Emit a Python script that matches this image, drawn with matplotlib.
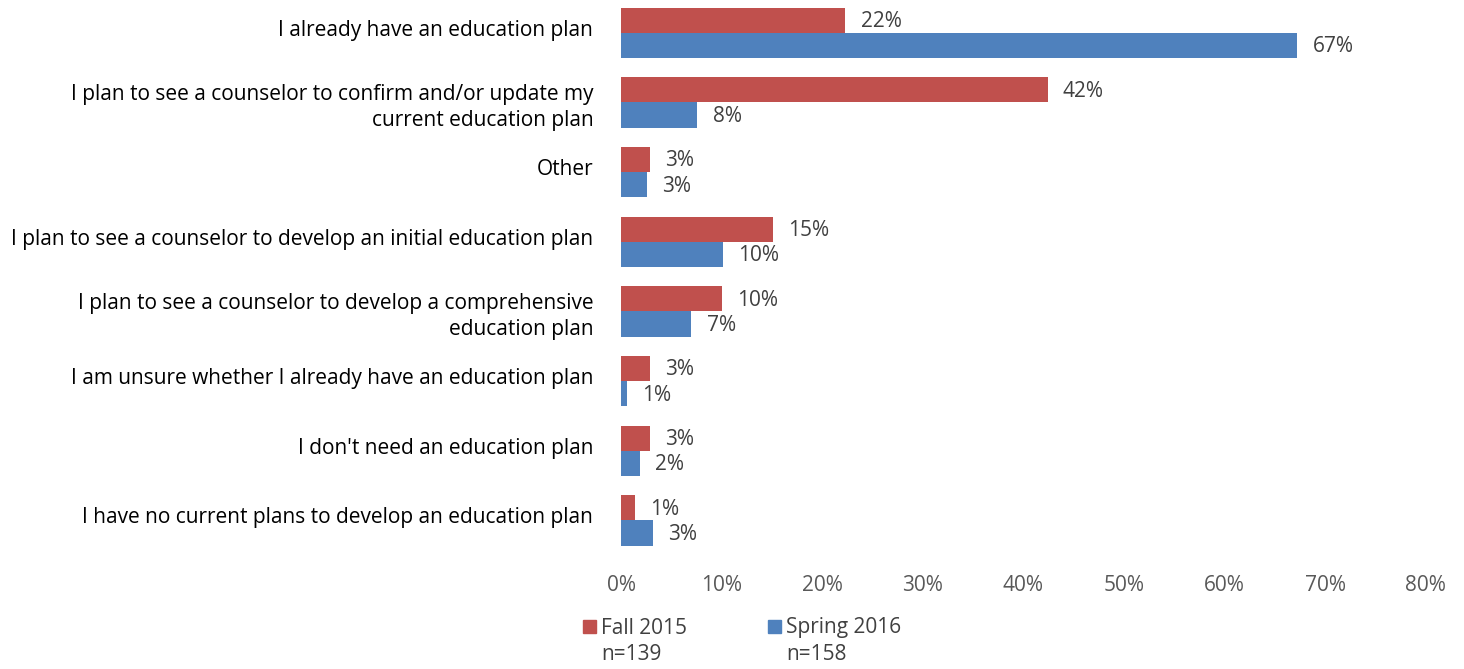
import numpy as np
import matplotlib.pyplot as plt
from matplotlib.patches import Rectangle
from matplotlib.transforms import ScaledTranslation

# Survey responses, top to bottom
categories = [
    "I already have an education plan",
    "I plan to see a counselor to confirm and/or update my\ncurrent education plan",
    "Other",
    "I plan to see a counselor to develop an initial education plan",
    "I plan to see a counselor to develop a comprehensive\neducation plan",
    "I am unsure whether I already have an education plan",
    "I don't need an education plan",
    "I have no current plans to develop an education plan",
]
fall_2015 = [22.3, 42.4, 2.9, 15.1, 10.0, 2.9, 2.9, 1.4]
spring_2016 = [67.2, 7.6, 2.6, 10.1, 7.0, 0.6, 1.9, 3.2]
series_names = ["Fall 2015", "Spring 2016"]
sample_sizes = ["n=139", "n=158"]
ticks = np.arange(0, 81, 10)

red = "#C0504D"
blue = "#4F81BD"
txt = "#404040"
fs = 15
plt.rcParams["font.family"] = ["Open Sans", "DejaVu Sans"]

fig = plt.figure(figsize=(14.64, 6.69), dpi=100)
ax = fig.add_axes([0.4242, 0.170, 0.5498, 0.833])

y = np.arange(len(categories))
h = 0.36
b1 = ax.barh(y - h / 2, fall_2015, height=h, color=red)
b2 = ax.barh(y + h / 2, spring_2016, height=h, color=blue)

for bars, vals in ((b1, fall_2015), (b2, spring_2016)):
    for bar, v in zip(bars, vals):
        ax.annotate(f"{v:.0f}%", (v, bar.get_y() + bar.get_height() / 2),
                    xytext=(11, -1), textcoords="offset points",
                    va="center", ha="left", fontsize=fs, color=txt)

ax.set_ylim(len(categories) - 0.5, -0.5)
ax.set_xlim(0, 80)
ax.set_xticks(ticks)
ax.set_xticklabels([f"{t}%" for t in ticks])
ax.set_yticks(y)
ax.set_yticklabels(categories, fontsize=fs, color="black", linespacing=1.33)
ax.tick_params(axis="x", length=0, pad=14, labelsize=fs, labelcolor="#595959")
ax.tick_params(axis="y", length=0, pad=20)
for s in ax.spines.values():
    s.set_visible(False)

# single-line category labels sit a little above the bar pair
lift = ScaledTranslation(0, 5 / 100, fig.dpi_scale_trans)
for lab in ax.get_yticklabels():
    if "\n" not in lab.get_text():
        lab.set_transform(lab.get_transform() + lift)

# legend: colour square next to the series name, sample size underneath
for x0, color, name, n in zip([583, 768], [red, blue], series_names, sample_sizes):
    fig.patches.append(Rectangle((x0 / 1464, 1 - 633 / 669), 13 / 1464, 13 / 669,
                                 transform=fig.transFigure, color=color))
    fig.text((x0 + 18) / 1464, 1 - 628 / 669, name, fontsize=fs, color=txt,
             va="center", ha="left")
    fig.text((x0 + 18) / 1464, 1 - 655 / 669, n, fontsize=fs, color=txt,
             va="center", ha="left")

fig.savefig("out.png", dpi=100)
